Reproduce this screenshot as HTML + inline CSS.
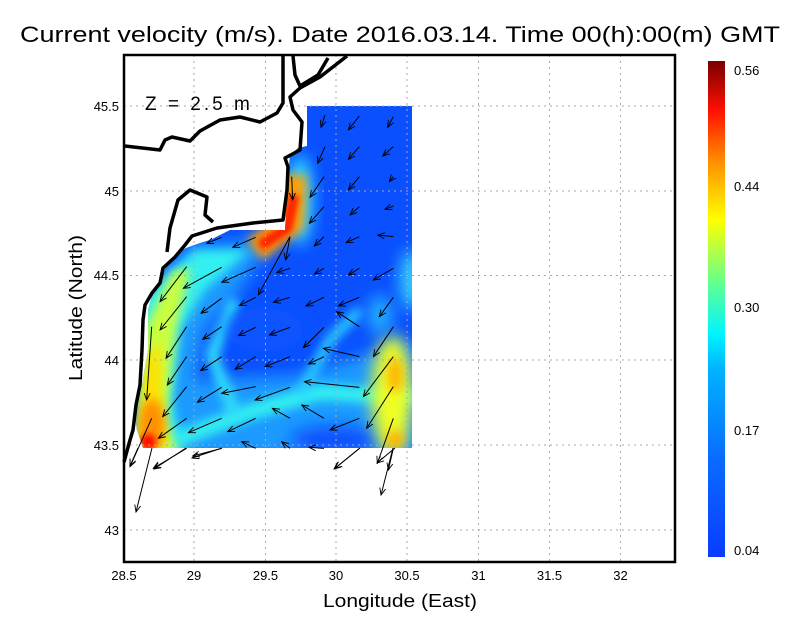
<!DOCTYPE html>
<html><head><meta charset="utf-8"><style>
html,body{margin:0;padding:0;background:#fff;width:800px;height:618px;overflow:hidden}
svg text{font-family:"Liberation Sans",sans-serif}
</style></head><body>
<svg id="s" width="800" height="618" xmlns="http://www.w3.org/2000/svg">
<defs>
<filter id="b8" x="-50%" y="-50%" width="200%" height="200%"><feGaussianBlur stdDeviation="8"/></filter>
<filter id="b5" x="-50%" y="-50%" width="200%" height="200%"><feGaussianBlur stdDeviation="5"/></filter>
<filter id="b3" x="-50%" y="-50%" width="200%" height="200%"><feGaussianBlur stdDeviation="3"/></filter>
<clipPath id="dc"><polygon points="307,106 412,106 412,448 143,448 137,430 134,410 138,395 142,385 148,350 148,310 152,296 158,285 168,262 175,255 186,248 200,243 210,240 230,230 285,230 288,175 290,155 298,148 307,146"/></clipPath>
<linearGradient id="cb" x1="0" y1="1" x2="0" y2="0">
<stop offset="0" stop-color="#0a3cff"/><stop offset="0.2" stop-color="#0a6cff"/><stop offset="0.38" stop-color="#00b4ff"/><stop offset="0.45" stop-color="#00f5ff"/><stop offset="0.55" stop-color="#60ff90"/><stop offset="0.68" stop-color="#ffff00"/><stop offset="0.8" stop-color="#ff8c00"/><stop offset="0.9" stop-color="#ff1000"/><stop offset="1" stop-color="#780000"/></linearGradient>
<marker id="ah" markerWidth="8" markerHeight="8" refX="7" refY="4" orient="auto" markerUnits="userSpaceOnUse"><path d="M0,1 L7,4 L0,7" fill="none" stroke="#000" stroke-width="0.9"/></marker>
</defs>
<text x="400" y="42" font-size="22" text-anchor="middle" fill="#000" textLength="760" lengthAdjust="spacingAndGlyphs">Current velocity (m/s). Date 2016.03.14. Time 00(h):00(m) GMT</text>
<g clip-path="url(#dc)">
<rect x="120" y="100" width="300" height="360" fill="#0a50ff"/>
<polygon filter="url(#b8)" fill="#1a9aff" points="130,460 135,300 190,245 270,240 240,290 205,330 195,380 300,375 412,340 420,460"/>
<polygon filter="url(#b5)" fill="#30f0f0" points="138,455 142,300 195,250 250,250 205,290 180,330 172,400 185,455"/>
<path filter="url(#b5)" d="M175,440 L250,412 L320,392 L415,398" stroke="#30f0f0" stroke-width="16" fill="none"/>
<path filter="url(#b5)" d="M235,300 L212,355 L235,415" stroke="#30e0f8" stroke-width="12" fill="none"/>
<path filter="url(#b5)" d="M300,395 L330,340 L360,310" stroke="#2ad0ff" stroke-width="10" fill="none"/>
<ellipse filter="url(#b8)" cx="335" cy="440" rx="45" ry="14" fill="#0a50ff"/>
<ellipse filter="url(#b8)" cx="265" cy="330" rx="38" ry="22" fill="#0a55ff"/>
<polygon filter="url(#b5)" fill="#c8ff40" points="138,455 144,330 172,272 190,268 176,330 166,420 178,455"/>
<polygon filter="url(#b5)" fill="#ffe000" points="138,450 145,360 160,340 162,410 165,450"/>
<ellipse filter="url(#b5)" cx="152" cy="425" rx="13" ry="26" fill="#ff9000"/>
<ellipse filter="url(#b3)" cx="148" cy="442" rx="8" ry="8" fill="#ff1000"/>
<ellipse filter="url(#b8)" cx="392" cy="395" rx="20" ry="60" fill="#f0ff20"/>
<ellipse filter="url(#b5)" cx="395" cy="375" rx="7" ry="18" fill="#ffb000"/>
<ellipse filter="url(#b5)" cx="395" cy="440" rx="8" ry="10" fill="#ffb000"/>
<ellipse filter="url(#b8)" cx="300" cy="200" rx="12" ry="45" fill="#30e8ff"/>
<path filter="url(#b5)" d="M294,175 L291,222 L255,250" stroke="#ffa000" stroke-width="26" fill="none"/>
<path filter="url(#b3)" d="M294,195 L287,228 L260,246" stroke="#ff2000" stroke-width="11" fill="none"/>
<ellipse filter="url(#b8)" cx="412" cy="280" rx="12" ry="30" fill="#30d0ff"/>
<ellipse filter="url(#b8)" cx="380" cy="315" rx="12" ry="20" fill="#20b0ff"/>
</g>
<g stroke="#aaa" stroke-width="1" stroke-dasharray="2,4">
<line x1="194" y1="55" x2="194" y2="562"/><line x1="265.5" y1="55" x2="265.5" y2="562"/><line x1="336" y1="55" x2="336" y2="562"/><line x1="407" y1="55" x2="407" y2="562"/><line x1="478.5" y1="55" x2="478.5" y2="562"/><line x1="549.5" y1="55" x2="549.5" y2="562"/><line x1="620.5" y1="55" x2="620.5" y2="562"/>
<line x1="124" y1="106" x2="675" y2="106"/><line x1="124" y1="191" x2="675" y2="191"/><line x1="124" y1="275.5" x2="675" y2="275.5"/><line x1="124" y1="360" x2="675" y2="360"/><line x1="124" y1="445" x2="675" y2="445"/><line x1="124" y1="530" x2="675" y2="530"/>
</g>
<g fill="none" stroke="#000" stroke-width="3.5" stroke-linejoin="round">
<polyline points="124,462 130,440 133,430 136,405 140,385 142,350 143,320 145,305 152,293 160,283 163,268 175,257 185,245 192,236 217,228 253,223 283,220 287,190 288,167 285,158 300,150 302,122 293,110 290,97 300,88 320,77 347,56"/>
<polyline points="125,146 160,150 165,140 172,137 190,141 200,131 220,120 240,117 260,122 277,113 283,103 283,56"/>
<polyline points="293,56 295,75 300,86 318,75 328,58"/>
<polyline points="167,252 170,228 178,200 190,190 207,197 205,215 213,222"/>
</g>
<text x="145" y="110" font-size="19" fill="#000" letter-spacing="3">Z = 2.5 m</text>
<g id="arr" stroke="#000" stroke-width="1" marker-end="url(#ah)"></g>
<rect x="124" y="55" width="551" height="507" fill="none" stroke="#000" stroke-width="2.5"/>
<g font-size="13" fill="#000" text-anchor="middle">
<text x="124" y="580">28.5</text><text x="194" y="580">29</text><text x="265.5" y="580">29.5</text><text x="336" y="580">30</text><text x="407" y="580">30.5</text><text x="478.5" y="580">31</text><text x="549.5" y="580">31.5</text><text x="620.5" y="580">32</text>
</g>
<g font-size="13" fill="#000" text-anchor="end">
<text x="119" y="111">45.5</text><text x="119" y="196">45</text><text x="119" y="280">44.5</text><text x="119" y="365">44</text><text x="119" y="450">43.5</text><text x="119" y="535">43</text>
</g>
<text x="400" y="607" font-size="18" text-anchor="middle" textLength="154" lengthAdjust="spacingAndGlyphs">Longitude (East)</text>
<text transform="translate(82,308) rotate(-90)" font-size="18" text-anchor="middle" textLength="146" lengthAdjust="spacingAndGlyphs">Latitude (North)</text>
<rect x="708" y="61" width="17" height="496" fill="url(#cb)"/>
<g font-size="13" fill="#000"><text x="734" y="75">0.56</text><text x="734" y="191">0.44</text><text x="734" y="312">0.30</text><text x="734" y="435">0.17</text><text x="734" y="555">0.04</text></g>
</svg>
<script>
var a=[[615,195,603,232],[718,198,685,240],[820,200,803,232],[615,290,593,340],[718,290,685,328],[820,290,788,318],[612,380,570,442],[718,380,685,420],[820,380,808,395],[515,380,518,450],[612,470,568,520],[718,470,690,495],[820,468,795,478],[407,562,338,592],[305,562,260,580],[612,560,583,588],[718,560,678,578],[820,560,773,555],[510,560,497,630],[510,560,415,735],[510,655,470,668],[612,655,583,672],[718,655,685,675],[820,655,760,690],[407,652,305,697],[305,652,190,715],[200,650,120,755],[305,745,243,790],[407,742,358,767],[510,742,460,757],[612,742,558,768],[718,742,655,768],[820,742,778,800],[718,830,650,785],[200,740,120,840],[305,830,248,868],[407,832,355,857],[510,832,448,855],[612,832,550,893],[718,920,610,895],[820,830,760,920],[200,830,138,925],[305,920,242,962],[407,920,345,958],[510,920,435,950],[612,920,565,942],[820,920,730,1040],[718,1012,553,995],[200,920,142,1005],[305,1012,232,1057],[407,1010,305,1030],[510,1012,405,1050],[612,1105,545,1065],[718,1105,630,1140],[820,1010,740,1135],[95,830,80,1050],[200,1010,128,1100],[305,1105,205,1148],[407,1105,323,1145],[510,1105,457,1075],[95,1105,30,1250],[200,1105,115,1165],[407,1195,365,1175],[510,1195,485,1175],[612,1195,567,1192],[820,1105,772,1240],[200,1195,100,1255],[305,1195,218,1218],[718,1195,645,1255],[820,1195,805,1260]];
var g=document.getElementById('arr'),h='';
a.forEach(function(p){h+='<line x1="'+(120+p[0]/3)+'" y1="'+(50+p[1]/3)+'" x2="'+(120+p[2]/3)+'" y2="'+(50+p[3]/3)+'"/>';});
var b=[[152,448,136,512],[138,448,130,466],[186,448,154,469],[222,448,192,458],[360,448,334,469],[395,448,377,463],[393,448,381,495]];
b.forEach(function(p){h+='<line x1="'+p[0]+'" y1="'+p[1]+'" x2="'+p[2]+'" y2="'+p[3]+'"/>';});
g.innerHTML=h;
</script>
</body></html>
